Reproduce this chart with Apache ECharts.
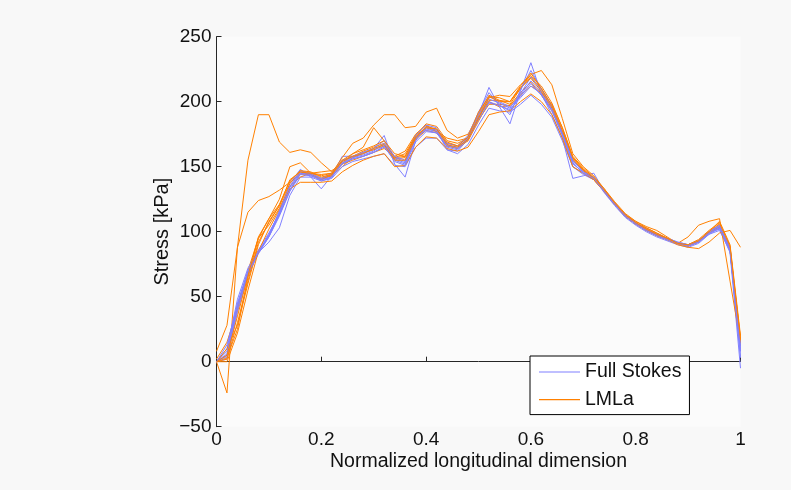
<!DOCTYPE html>
<html>
<head>
<meta charset="utf-8">
<script src="https://cdn.jsdelivr.net/npm/echarts@6/dist/echarts.min.js"></script>
<style>
  html, body { margin: 0; padding: 0; background: #f8f8f8; }
  #chart { width: 791px; height: 490px; }
</style>
</head>
<body>
<div id="chart"></div>
<script>
// Normalized longitudinal positions of the sample points
const xs = [0, 0.02, 0.04, 0.06, 0.08, 0.10, 0.12, 0.14, 0.16, 0.18,
  0.20, 0.22, 0.24, 0.26, 0.28, 0.30, 0.32, 0.34, 0.36, 0.38,
  0.40, 0.42, 0.44, 0.46, 0.48, 0.50, 0.52, 0.54, 0.56, 0.58,
  0.60, 0.62, 0.64, 0.66, 0.68, 0.70, 0.72, 0.74, 0.76, 0.78,
  0.80, 0.82, 0.84, 0.86, 0.88, 0.90, 0.92, 0.94, 0.96, 0.98, 1.00];

const xTicks = [0, 0.2, 0.4, 0.6, 0.8, 1];
const yTicks = [-50, 0, 50, 100, 150, 200, 250];

// Stress [kPa] — Full Stokes runs
const fsRun1 = [0, 5, 42, 68, 84, 97, 113, 132, 145, 143, 140, 143, 153, 157, 160, 163, 167, 156, 153, 172, 179, 177, 166, 164, 172, 188, 200, 197, 193, 205, 216, 207, 194, 175, 152, 146, 141, 131, 121, 112, 106, 101, 97, 94, 91, 89, 92, 99, 103, 86, 8];
const fsRun2 = [0, 2, 38, 66, 84, 98, 115, 137, 148, 142, 133, 143, 158, 158, 161, 164, 174, 152, 142, 170, 181, 178, 163, 162, 171, 190, 211, 196, 183, 208, 230, 206, 190, 172, 141, 143, 145, 131, 121, 112, 106, 101, 97, 94, 91, 90, 92, 99, 102, 84, -5];
const fsRun3 = [0, 8, 45, 70, 84, 92, 103, 128, 142, 142, 139, 141, 150, 154, 156, 158, 160, 151, 150, 165, 172, 172, 163, 160, 167, 182, 195, 193, 192, 198, 205, 198, 188, 170, 150, 144, 140, 132, 122, 113, 107, 102, 98, 95, 92, 90, 93, 100, 104, 87, 3];
const fsRun4 = [0, 10, 48, 72, 86, 99, 114, 134, 146, 144, 141, 144, 155, 157, 159, 162, 168, 157, 154, 173, 178, 176, 166, 165, 173, 190, 202, 199, 195, 206, 219, 209, 196, 176, 154, 147, 141, 130, 120, 111, 105, 100, 96, 93, 90, 88, 91, 98, 101, 85, 8];
const fsRun5 = [0, 4, 40, 67, 83, 96, 112, 131, 144, 143, 140, 142, 152, 156, 158, 161, 165, 155, 152, 171, 180, 178, 167, 164, 172, 187, 204, 200, 196, 204, 214, 205, 193, 174, 150, 145, 140, 131, 121, 112, 106, 101, 97, 94, 91, 89, 92, 98, 103, 86, 10];
const fsRun6 = [0, 13, 44, 69, 85, 97, 116, 135, 147, 145, 141, 145, 154, 158, 161, 164, 170, 158, 155, 174, 182, 180, 168, 166, 174, 192, 207, 198, 190, 209, 224, 210, 197, 177, 155, 146, 142, 132, 122, 113, 107, 102, 98, 95, 92, 90, 93, 100, 105, 88, 12];
const fsRun7 = [0, 6, 43, 68, 84, 96, 113, 132, 145, 144, 139, 142, 153, 156, 158, 161, 166, 154, 151, 169, 177, 176, 165, 163, 171, 186, 199, 197, 194, 203, 212, 206, 194, 175, 153, 145, 141, 131, 121, 112, 106, 101, 97, 94, 91, 89, 92, 99, 103, 86, 4];

// Stress [kPa] — LMLa runs
const lmRun1 = [0, -24, 88, 155, 190, 190, 169, 161, 163, 161, 153, 146, 155, 158, 162, 165, 168, 157, 160, 174, 180, 177, 168, 166, 170, 185, 200, 196, 197, 207, 215, 205, 193, 176, 155, 147, 140, 131, 121, 112, 106, 101, 97, 94, 91, 89, 92, 99, 104, 86, 12];
const lmRun2 = [8, 28, 88, 115, 124, 127, 132, 138, 144, 145, 146, 147, 152, 155, 158, 161, 164, 158, 162, 175, 182, 177, 172, 170, 172, 186, 198, 198, 197, 205, 212, 207, 198, 180, 157, 148, 141, 131, 121, 112, 106, 102, 98, 94, 91, 90, 93, 100, 105, 87, 15];
const lmRun3 = [2, 15, 40, 70, 95, 110, 125, 150, 153, 145, 141, 143, 150, 157, 161, 163, 166, 156, 157, 171, 178, 176, 166, 164, 170, 188, 201, 201, 200, 210, 219, 210, 196, 177, 155, 147, 141, 131, 121, 112, 106, 103, 99, 95, 91, 89, 92, 99, 104, 86, 18];
const lmRun4 = [0, 3, 25, 65, 95, 105, 118, 135, 142, 145, 144, 145, 157, 168, 172, 182, 190, 190, 180, 181, 192, 195, 178, 172, 175, 190, 205, 201, 198, 210, 221, 224, 213, 187, 160, 150, 143, 133, 122, 113, 107, 102, 98, 94, 91, 90, 93, 100, 106, 88, 14];
const lmRun5 = [0, 10, 28, 60, 90, 108, 120, 137, 146, 144, 140, 144, 152, 160, 165, 180, 170, 157, 158, 174, 183, 181, 170, 168, 172, 188, 204, 203, 200, 211, 218, 208, 195, 177, 156, 147, 140, 131, 122, 113, 108, 104, 101, 96, 91, 96, 105, 108, 110, 62, 15];
const lmRun6 = [0, 0, 22, 55, 85, 102, 117, 133, 138, 138, 138, 139, 146, 151, 155, 158, 160, 150, 151, 165, 173, 172, 164, 162, 165, 177, 190, 192, 193, 200, 206, 200, 190, 172, 150, 145, 140, 131, 121, 112, 106, 101, 97, 94, 90, 88, 87, 92, 99, 101, 88];
const lmRun7 = [0, 2, 30, 62, 92, 107, 120, 140, 146, 145, 143, 145, 154, 158, 160, 164, 167, 155, 155, 172, 181, 179, 169, 166, 173, 192, 204, 200, 200, 212, 222, 210, 197, 178, 157, 148, 141, 132, 122, 113, 107, 102, 98, 95, 91, 89, 93, 100, 108, 90, 20];
const lmRun8 = [0, 5, 35, 66, 96, 110, 121, 139, 147, 146, 142, 144, 155, 160, 163, 166, 170, 160, 158, 173, 180, 179, 167, 165, 171, 187, 203, 205, 204, 213, 220, 212, 199, 180, 158, 149, 142, 133, 123, 114, 108, 103, 99, 95, 91, 90, 94, 101, 107, 89, 17];

const fullStokesRuns = [fsRun1, fsRun2, fsRun3, fsRun4, fsRun5, fsRun6, fsRun7];
const lmlaRuns = [lmRun1, lmRun2, lmRun3, lmRun4, lmRun5, lmRun6, lmRun7, lmRun8];

const FONT = 'Liberation Sans';
const BLUE = '#8080ff';
const ORANGE = '#ff8000';
const AXIS = '#262626';

function makeSeries(name, values, color) {
  return {
    name: name,
    type: 'line',
    data: xs.map((x, i) => [x, values[i]]),
    symbol: 'none',
    lineStyle: { color: color, width: 1 },
    itemStyle: { color: color },
    emphasis: { disabled: true },
    animation: false
  };
}

// Interleave the two models so neither bundle hides the other
const series = [];
const n = Math.max(fullStokesRuns.length, lmlaRuns.length);
for (let i = 0; i < n; i++) {
  if (i < lmlaRuns.length) series.push(makeSeries('LMLa', lmlaRuns[i], ORANGE));
  if (i < fullStokesRuns.length) series.push(makeSeries('Full Stokes', fullStokesRuns[i], BLUE));
}

const minusFmt = v => String(v).replace('-', '\u2212');

const chart = echarts.init(document.getElementById('chart'), null, { renderer: 'canvas' });
chart.setOption({
  backgroundColor: '#f8f8f8',
  animation: false,
  textStyle: { fontFamily: FONT },
  grid: {
    left: 216.5, right: 50.5, top: 36.7, bottom: 63.3,
    show: true, backgroundColor: '#fbfbfb', borderWidth: 0
  },
  xAxis: {
    type: 'value',
    min: xTicks[0], max: xTicks[xTicks.length - 1], interval: 0.2,
    name: 'Normalized longitudinal dimension',
    nameLocation: 'middle', nameGap: 25, nameMoveOverlap: false,
    nameTextStyle: { fontFamily: FONT, fontSize: 19.5, color: '#111' },
    axisLine: { show: true, lineStyle: { color: AXIS, width: 1 } },
    axisTick: { show: true, inside: true, length: 5, lineStyle: { color: AXIS } },
    axisLabel: {
      margin: 4, fontFamily: FONT, fontSize: 19, color: '#111',
      formatter: v => minusFmt(+v.toFixed(1))
    },
    splitLine: { show: false }
  },
  yAxis: {
    type: 'value',
    min: yTicks[0], max: yTicks[yTicks.length - 1], interval: 50,
    name: 'Stress [kPa]',
    nameLocation: 'middle', nameGap: 44, nameRotate: 90, nameMoveOverlap: false,
    nameTextStyle: { fontFamily: FONT, fontSize: 20, color: '#111' },
    axisLine: { show: true, lineStyle: { color: AXIS, width: 1 } },
    axisTick: { show: true, inside: true, length: 5, lineStyle: { color: AXIS } },
    axisLabel: {
      margin: 5, fontFamily: FONT, fontSize: 19, color: '#111',
      formatter: v => minusFmt(v)
    },
    splitLine: { show: false }
  },
  legend: {
    data: [
      { name: 'Full Stokes', icon: 'rect' },
      { name: 'LMLa', icon: 'rect' }
    ],
    orient: 'vertical',
    left: 530, top: 356,
    padding: [6, 8, 5, 9],
    itemWidth: 41, itemHeight: 1.2, itemGap: 7.6,
    backgroundColor: '#ffffff',
    borderColor: '#000000', borderWidth: 1, borderRadius: 0,
    selectedMode: false,
    textStyle: { fontFamily: FONT, fontSize: 19.5, color: '#111', lineHeight: 19 }
  },
  series: series
});
</script>
</body>
</html>
